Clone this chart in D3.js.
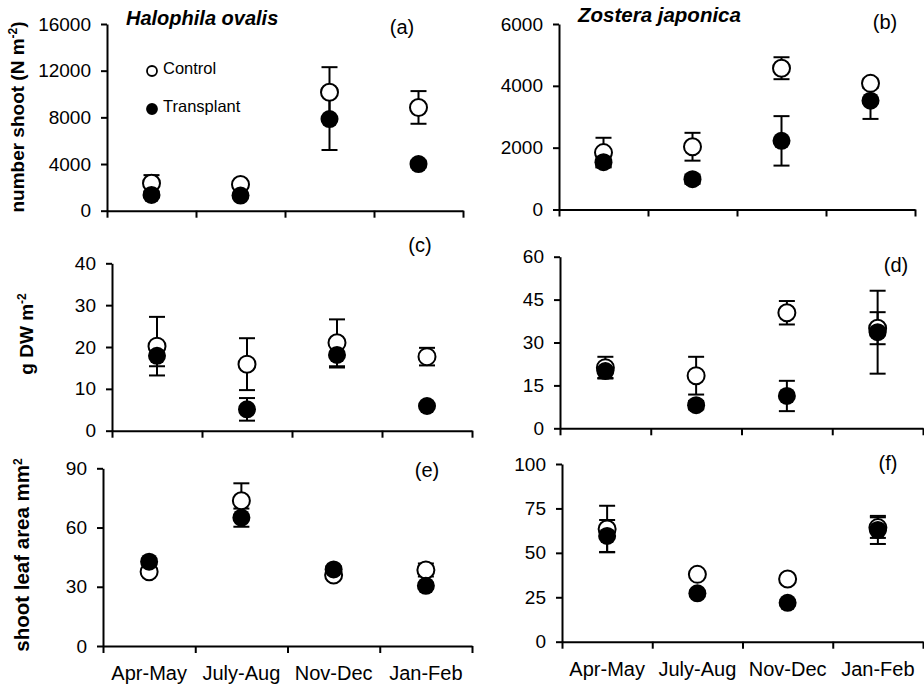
<!DOCTYPE html>
<html>
<head>
<meta charset="utf-8">
<script src="https://cdn.jsdelivr.net/npm/d3@7"></script>
<style>
  body { margin: 0; background: #fff; }
  svg { display: block; font-family: "Liberation Sans", Arial, sans-serif; }
  .axis path, .axis line { stroke: #000; stroke-width: 2; }
  .axis text { fill: #000; font-size: 19px; }
  .cat text { font-size: 20px; }
</style>
</head>
<body>
<div id="chart"></div>
<script>
// seasons on the x axis
var seasons = ["Apr-May", "July-Aug", "Nov-Dec", "Jan-Feb"];

// (a) Halophila ovalis, shoot density
var aControl = [2350, 2250, 10150, 8850];
var aControlSE = [700, 250, 2150, 1400];
var aTransplant = [1350, 1300, 7850, 4000];
var aTransplantSE = [200, 150, 2650, 300];
var aTicks = [0, 4000, 8000, 12000, 16000];

// (b) Zostera japonica, shoot density
var bControl = [1840, 2030, 4570, 4080];
var bControlSE = [480, 450, 355, 150];
var bTransplant = [1530, 980, 2220, 3520];
var bTransplantSE = [150, 150, 800, 590];
var bTicks = [0, 2000, 4000, 6000];

// (c) Halophila ovalis, biomass
var cControl = [20.2, 15.9, 21.0, 17.7];
var cControlSE = [7.0, 6.2, 5.6, 2.1];
var cTransplant = [17.9, 5.1, 18.1, 5.9];
var cTransplantSE = [2.5, 2.7, 3.0, 0.5];
var cTicks = [0, 10, 20, 30, 40];

// (d) Zostera japonica, biomass
var dControl = [21.2, 18.4, 40.4, 35.0];
var dControlSE = [3.8, 6.6, 4.1, 5.6];
var dTransplant = [20.0, 8.1, 11.3, 33.6];
var dTransplantSE = [2.4, 1.5, 5.3, 14.5];
var dTicks = [0, 15, 30, 45, 60];

// (e) Halophila ovalis, leaf area
var eControl = [37.6, 73.6, 36.0, 38.5];
var eControlSE = [2.0, 8.8, 1.5, 3.3];
var eTransplant = [42.7, 65.0, 38.8, 30.5];
var eTransplantSE = [1.5, 4.6, 1.5, 1.5];
var eTicks = [0, 30, 60, 90];

// (f) Zostera japonica, leaf area
var fControl = [63.4, 37.9, 35.3, 64.2];
var fControlSE = [13.1, 1.5, 1.5, 5.8];
var fTransplant = [59.5, 27.2, 21.9, 62.9];
var fTransplantSE = [9.0, 1.5, 1.5, 7.9];
var fTicks = [0, 25, 50, 75, 100];

var width = 924, height = 684;

var svg = d3.select('#chart')
  .append('svg')
    .attr('width', width)
    .attr('height', height);

var panels = [
  {id: '(a)', l: 107, r: 463, t: 24, b: 210.7, ticks: aTicks, c: aControl, cse: aControlSE, tr: aTransplant, tse: aTransplantSE, lab: [402, 27], cats: false},
  {id: '(b)', l: 559, r: 915, t: 24, b: 209.5, ticks: bTicks, c: bControl, cse: bControlSE, tr: bTransplant, tse: bTransplantSE, lab: [885, 22], cats: false},
  {id: '(c)', l: 112, r: 472, t: 263.3, b: 430.7, ticks: cTicks, c: cControl, cse: cControlSE, tr: cTransplant, tse: cTransplantSE, lab: [420, 245], cats: false},
  {id: '(d)', l: 560, r: 923, t: 256.7, b: 428.3, ticks: dTicks, c: dControl, cse: dControlSE, tr: dTransplant, tse: dTransplantSE, lab: [896, 265], cats: false},
  {id: '(e)', l: 103, r: 472, t: 468.3, b: 646, ticks: eTicks, c: eControl, cse: eControlSE, tr: eTransplant, tse: eTransplantSE, lab: [427, 470], cats: true},
  {id: '(f)', l: 562, r: 923, t: 464, b: 641.7, ticks: fTicks, c: fControl, cse: fControlSE, tr: fTransplant, tse: fTransplantSE, lab: [888, 463], cats: true}
];

var R = 8.5, CAP = 8;

panels.forEach(function(p) {
  var g = svg.append('g');

  var y = d3.scaleLinear()
    .domain([0, p.ticks[p.ticks.length - 1]])
    .range([p.b, p.t]);
  var x = d3.scaleBand().domain(seasons).range([p.l, p.r]);
  var xEdge = d3.scaleLinear().domain([0, seasons.length]).range([p.l, p.r]);

  // y axis
  g.append('g')
    .attr('class', 'axis')
    .attr('transform', 'translate(' + p.l + ',0)')
    .call(d3.axisLeft(y).tickValues(p.ticks).tickSize(6).tickSizeOuter(0)
      .tickPadding(10).tickFormat(d3.format('d')));

  // x axis, ticks between the seasons
  g.append('g')
    .attr('class', 'axis')
    .attr('transform', 'translate(0,' + p.b + ')')
    .call(d3.axisBottom(xEdge).tickValues(d3.range(seasons.length + 1))
      .tickSize(7).tickSizeOuter(0).tickFormat(''));

  if (p.cats) {
    var cat = g.append('g')
      .attr('class', 'axis cat')
      .attr('transform', 'translate(0,' + p.b + ')')
      .call(d3.axisBottom(x).tickSize(0).tickPadding(20));
    cat.select('.domain').remove();
  }

  var ctrl = seasons.map(function(s, i) { return {s: s, v: p.c[i], e: p.cse[i]}; });
  var trans = seasons.map(function(s, i) { return {s: s, v: p.tr[i], e: p.tse[i]}; });

  // error bars
  [ctrl, trans].forEach(function(data) {
    var eb = g.append('g').selectAll('g').data(data).enter().append('g')
      .attr('stroke', '#000').attr('stroke-width', 2);
    eb.append('line')
      .attr('x1', function(d) { return x(d.s) + x.bandwidth() / 2; })
      .attr('x2', function(d) { return x(d.s) + x.bandwidth() / 2; })
      .attr('y1', function(d) { return y(d.v - d.e); })
      .attr('y2', function(d) { return y(d.v + d.e); });
    [1, -1].forEach(function(sign) {
      eb.append('line')
        .attr('x1', function(d) { return x(d.s) + x.bandwidth() / 2 - CAP; })
        .attr('x2', function(d) { return x(d.s) + x.bandwidth() / 2 + CAP; })
        .attr('y1', function(d) { return y(d.v + sign * d.e); })
        .attr('y2', function(d) { return y(d.v + sign * d.e); });
    });
  });

  // control (open) then transplant (filled)
  g.append('g').selectAll('circle').data(ctrl).enter().append('circle')
    .attr('cx', function(d) { return x(d.s) + x.bandwidth() / 2; })
    .attr('cy', function(d) { return y(d.v); })
    .attr('r', R)
    .attr('fill', '#fff').attr('stroke', '#000').attr('stroke-width', 2);

  g.append('g').selectAll('circle').data(trans).enter().append('circle')
    .attr('cx', function(d) { return x(d.s) + x.bandwidth() / 2; })
    .attr('cy', function(d) { return y(d.v); })
    .attr('r', R + 0.5)
    .attr('fill', '#000');

  g.append('text')
    .attr('x', p.lab[0]).attr('y', p.lab[1])
    .attr('dy', '0.35em')
    .attr('text-anchor', 'middle')
    .style('font-size', '20px')
    .text(p.id);
});

// species titles
svg.append('text').attr('x', 126).attr('y', 25)
  .style('font-size', '20px').style('font-weight', 'bold').style('font-style', 'italic')
  .text('Halophila ovalis');
svg.append('text').attr('x', 578).attr('y', 22)
  .style('font-size', '20.5px').style('font-weight', 'bold').style('font-style', 'italic')
  .text('Zostera japonica');

// legend
var legend = [{name: 'Control', fill: '#fff', y: 71}, {name: 'Transplant', fill: '#000', y: 109}];
legend.forEach(function(d) {
  svg.append('circle').attr('cx', 152).attr('cy', d.y).attr('r', 5)
    .attr('fill', d.fill).attr('stroke', '#000').attr('stroke-width', 1.8);
  svg.append('text').attr('x', 163).attr('y', d.y - 3).attr('dy', '0.35em')
    .style('font-size', '16.5px').text(d.name);
});

// y axis titles
function yTitle(x, y, size, main, sup, tail) {
  var t = svg.append('text')
    .attr('transform', 'translate(' + x + ',' + y + ') rotate(-90)')
    .attr('text-anchor', 'middle')
    .style('font-size', size + 'px').style('font-weight', 'bold');
  t.append('tspan').text(main);
  t.append('tspan').attr('baseline-shift', 'super').style('font-size', '12px').text(sup);
  if (tail) t.append('tspan').text(tail);
}
yTitle(24, 117, 19, 'number shoot (N m', '-2', ')');
yTitle(33, 334, 19, 'g DW m', '-2');
yTitle(29, 555, 20.5, 'shoot leaf area mm', '2');
</script>
</body>
</html>
